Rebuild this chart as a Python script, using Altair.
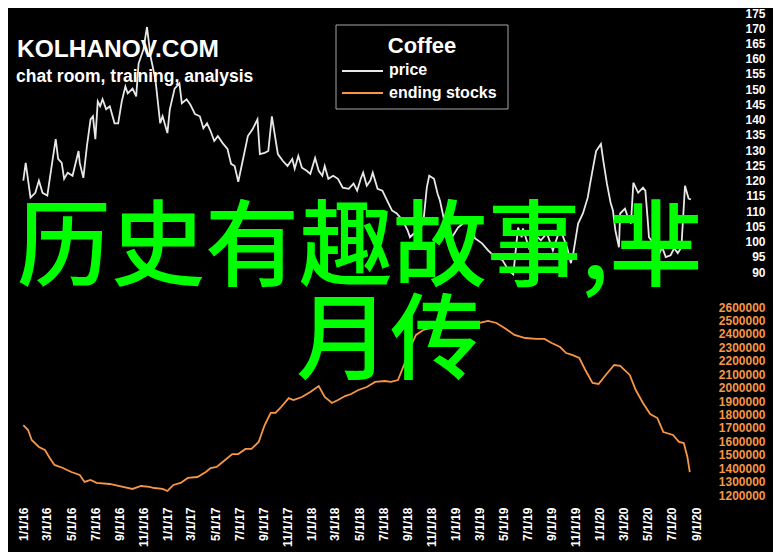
import altair as alt
import numpy as np
import pandas as pd

# ---------------- data ----------------
# time is given in months since 1 Jan 2016
price_month = [0.0, 0.2, 0.6, 1.0, 1.3, 1.6, 2.0, 2.4, 2.7, 2.9,
               3.2, 3.4, 3.7, 4.1, 4.6, 4.7, 5.0, 5.3, 5.6, 5.8,
               6.0, 6.2, 6.4, 6.6, 6.9, 7.2, 7.6, 7.9, 8.2, 8.5,
               8.7, 9.1, 9.4, 9.6, 10.0, 10.3, 10.6, 11.0, 11.4, 11.6,
               12.0, 12.2, 12.6, 13.0, 13.2, 13.6, 13.9, 14.3, 14.7, 15.0,
               15.3, 15.6, 15.9, 16.2, 16.6, 17.0, 17.3, 17.6, 17.9, 18.3,
               18.7, 19.1, 19.5, 19.7, 20.1, 20.4, 20.7, 21.0, 21.2, 21.6,
               22.0, 22.4, 22.6, 22.9, 23.2, 23.6, 23.9, 24.3, 24.6, 24.9,
               25.1, 25.4, 25.8, 26.2, 26.6, 27.1, 27.5, 27.8, 28.1, 28.3,
               28.6, 28.9, 29.1, 29.5, 29.9, 30.3, 30.7, 31.1, 31.6, 32.0,
               32.2, 32.8, 33.3, 33.6, 33.8, 34.2, 34.5, 34.7, 35.1, 35.7,
               36.2, 36.9, 37.4, 37.6, 38.2, 38.7, 39.3, 39.9, 40.4, 40.8,
               41.2, 41.5, 41.6, 42.1, 42.5, 43.1, 43.6, 44.1, 44.7, 45.3,
               45.6, 45.8, 46.2, 46.6, 47.0, 47.2, 47.5, 47.7, 48.1, 48.3,
               48.6, 48.9, 49.1, 49.3, 49.6, 49.7, 50.1, 50.3, 50.6, 50.8,
               51.2, 51.6, 51.8, 52.0, 52.1, 52.5, 52.9, 53.2, 53.5, 53.9,
               54.2, 54.5, 54.8, 55.1, 55.4, 55.6]
price_value = [120.0, 125.8, 114.4, 116.0, 120.0, 116.0, 115.1, 125.8, 133.6, 127.1,
               125.8, 120.6, 122.6, 121.6, 129.7, 125.8, 120.9, 131.4, 140.1, 141.1,
               133.6, 146.0, 144.4, 146.7, 143.4, 144.4, 138.8, 138.8, 146.0, 150.9,
               148.6, 150.2, 147.6, 158.4, 163.0, 170.4, 160.7, 153.2, 138.8, 141.1,
               135.6, 143.4, 150.2, 151.9, 145.4, 146.7, 145.0, 141.8, 141.1, 137.2,
               138.8, 136.2, 133.0, 134.6, 132.3, 130.4, 125.5, 124.8, 119.6, 127.1,
               134.6, 136.9, 140.1, 128.7, 129.1, 129.7, 141.1, 133.6, 128.7, 126.5,
               124.8, 127.1, 123.9, 128.1, 124.2, 123.2, 122.2, 127.4, 123.2, 121.6,
               124.8, 120.6, 121.6, 120.6, 117.7, 117.3, 119.0, 116.7, 120.6, 122.6,
               118.3, 120.0, 122.6, 117.3, 116.7, 113.4, 110.2, 109.2, 106.9, 103.7,
               101.4, 103.7, 105.9, 117.7, 121.6, 120.6, 115.7, 113.4, 105.9, 101.4,
               104.6, 106.9, 103.7, 101.1, 99.4, 97.1, 94.9, 93.9, 90.6, 89.2,
               104.6, 101.4, 104.3, 98.1, 102.7, 100.4, 102.7, 97.1, 104.3, 97.8,
               92.9, 96.2, 105.9, 109.2, 114.4, 119.0, 125.5, 129.7, 132.0, 126.5,
               119.0, 112.8, 110.2, 103.7, 98.1, 109.2, 110.8, 108.5, 105.9, 119.3,
               116.0, 117.7, 116.7, 106.9, 101.4, 99.4, 95.5, 98.1, 94.9, 95.5,
               97.8, 96.2, 98.1, 118.3, 114.1, 113.8]

stock_month = [0.0, 0.4, 0.7, 1.3, 1.8, 2.2, 2.6, 3.3, 4.0, 4.7,
               5.1, 5.6, 6.1, 7.2, 8.3, 9.1, 9.8, 10.5, 10.9, 11.6,
               12.0, 12.5, 13.1, 13.7, 14.5, 15.2, 15.6, 16.1, 16.6, 17.4,
               17.9, 18.5, 19.0, 19.6, 20.1, 20.6, 21.0, 21.4, 22.1, 22.5,
               23.2, 23.9, 24.6, 25.1, 25.7, 26.2, 26.8, 27.3, 27.9, 28.6,
               29.3, 30.1, 30.6, 31.2, 31.7, 32.2, 32.7, 33.3, 34.0, 35.1,
               36.1, 37.2, 38.0, 38.7, 39.4, 40.2, 40.9, 41.8, 42.7, 43.4,
               44.0, 44.7, 45.2, 45.7, 46.3, 46.8, 47.4, 47.9, 48.5, 49.2,
               49.7, 50.5, 51.0, 51.6, 52.2, 52.8, 53.3, 54.1, 54.6, 55.0,
               55.3, 55.5]
stock_value = [1721000, 1684000, 1610000, 1558000, 1535000, 1476000, 1424000, 1401000, 1371000, 1349000,
               1297000, 1312000, 1290000, 1282000, 1260000, 1245000, 1267000, 1260000, 1252000, 1245000,
               1230000, 1275000, 1290000, 1327000, 1334000, 1371000, 1401000, 1409000, 1446000, 1505000,
               1505000, 1543000, 1543000, 1595000, 1721000, 1811000, 1811000, 1848000, 1922000, 1907000,
               1930000, 1967000, 2012000, 1930000, 1885000, 1907000, 1937000, 1952000, 1982000, 2004000,
               2042000, 2049000, 2042000, 2056000, 2168000, 2295000, 2392000, 2429000, 2444000, 2451000,
               2451000, 2466000, 2481000, 2496000, 2481000, 2436000, 2392000, 2369000, 2362000, 2362000,
               2332000, 2302000, 2257000, 2243000, 2220000, 2131000, 2034000, 2027000, 2094000, 2168000,
               2161000, 2094000, 1982000, 1885000, 1803000, 1773000, 1669000, 1647000, 1595000, 1587000,
               1483000, 1371000]

price_ticks = list(range(90, 180, 5))
stock_ticks = list(range(1200000, 2700000, 100000))
x_tick_dates = pd.date_range("2016-01-01", "2020-09-01", freq="2MS")

site_title = ["KOLHANOV.COM"]
site_subtitle = ["chat room, training, analysis"]
legend_title = ["Coffee"]
series_names = ["price", "ending stocks"]
headline_lines = ["历史有趣故事,芈", "月传"]

# ---------------- build ----------------
base = pd.Timestamp("2016-01-01")


def to_dates(months):
    return base + pd.to_timedelta(np.asarray(months) * 30.4375, unit="D")


price_df = pd.DataFrame({"date": to_dates(price_month), "price": price_value})
stock_df = pd.DataFrame({"date": to_dates(stock_month), "stocks": stock_value})

WHITE = "#e8e8e8"
ORANGE = "#f79646"
GREEN = "#00ff00"
FONT = "Liberation Sans"

W, H = 700, 492

x_scale = alt.Scale(
    domain=[alt.DateTime(year=2016, month=1, date=1), alt.DateTime(year=2020, month=9, date=1)],
    range=[15.3, 688],
)
x_axis = alt.Axis(
    values=[alt.DateTime(year=int(d.year), month=int(d.month), date=1) for d in x_tick_dates],
    format="%-m/%-d/%y", labelAngle=270, labelAlign="right", labelBaseline="middle",
    labelPadding=7, labelColor="white", labelFont=FONT, labelFontSize=12,
    labelFontWeight="bold", grid=False, domain=False, ticks=False, tickSize=0,
    title=None, labelOverlap=False, labelFlush=False, labelBound=False,
)

price_line = alt.Chart(price_df).mark_line(color=WHITE, strokeWidth=1.8).encode(
    x=alt.X("date:T", scale=x_scale, axis=x_axis),
    y=alt.Y("price:Q",
            scale=alt.Scale(domain=[90, 175], range=[264, 5], zero=False, nice=False),
            axis=alt.Axis(orient="right", values=price_ticks, labelAlign="right",
                          labelBaseline="middle", labelPadding=57, labelColor="white",
                          labelFont=FONT, labelFontSize=12, labelFontWeight="bold",
                          grid=False, domain=False, ticks=False, tickSize=0, title=None,
                          labelOverlap=False, labelFlush=False)),
)

stock_line = alt.Chart(stock_df).mark_line(color=ORANGE, strokeWidth=1.8).encode(
    x=alt.X("date:T", scale=x_scale, axis=x_axis),
    y=alt.Y("stocks:Q",
            scale=alt.Scale(domain=[1200000, 2600000], range=[487, 299], zero=False, nice=False),
            axis=alt.Axis(orient="right", values=stock_ticks, format="d", labelAlign="right",
                          labelBaseline="middle", labelPadding=57, labelColor=ORANGE,
                          labelFont=FONT, labelFontSize=12, labelFontWeight="bold",
                          grid=False, domain=False, ticks=False, tickSize=0, title=None,
                          labelOverlap=False, labelFlush=False)),
)

one = pd.DataFrame({"k": [0]})

legend_box = alt.Chart(one).mark_rect(fill="black", stroke="#a6a6a6", strokeWidth=1).encode(
    x=alt.value(328), x2=alt.value(500), y=alt.value(17), y2=alt.value(101)
)
legend_title_t = alt.Chart(pd.DataFrame({"t": legend_title})).mark_text(
    font=FONT, fontSize=22, fontWeight="bold", color="white", align="center", baseline="alphabetic"
).encode(x=alt.value(414), y=alt.value(45), text="t:N")
legend_price_line = alt.Chart(one).mark_rule(color=WHITE, strokeWidth=2).encode(
    x=alt.value(334), x2=alt.value(375), y=alt.value(63)
)
legend_stock_line = alt.Chart(one).mark_rule(color=ORANGE, strokeWidth=2).encode(
    x=alt.value(334), x2=alt.value(375), y=alt.value(85)
)
legend_price_t = alt.Chart(pd.DataFrame({"t": series_names[:1]})).mark_text(
    font=FONT, fontSize=16, fontWeight="bold", color="white", align="left", baseline="alphabetic"
).encode(x=alt.value(381), y=alt.value(67), text="t:N")
legend_stock_t = alt.Chart(pd.DataFrame({"t": series_names[1:]})).mark_text(
    font=FONT, fontSize=16, fontWeight="bold", color="white", align="left", baseline="alphabetic"
).encode(x=alt.value(381), y=alt.value(90), text="t:N")

title_t = alt.Chart(pd.DataFrame({"t": site_title})).mark_text(
    font=FONT, fontSize=24.5, fontWeight="bold", color="white", align="left", baseline="alphabetic"
).encode(x=alt.value(9), y=alt.value(49), text="t:N")
subtitle_t = alt.Chart(pd.DataFrame({"t": site_subtitle})).mark_text(
    font=FONT, fontSize=17.5, fontWeight="bold", color="white", align="left", baseline="alphabetic"
).encode(x=alt.value(8), y=alt.value(74), text="t:N")

head1 = alt.Chart(pd.DataFrame({"t": headline_lines[:1]})).mark_text(
    font="Noto Sans CJK SC", fontSize=94, fontWeight=500, color=GREEN, align="center",
    baseline="alphabetic"
).encode(x=alt.value(352), y=alt.value(271), text="t:N")
head2 = alt.Chart(pd.DataFrame({"t": headline_lines[1:]})).mark_text(
    font="Noto Sans CJK SC", fontSize=94, fontWeight=500, color=GREEN, align="center",
    baseline="alphabetic"
).encode(x=alt.value(382), y=alt.value(364), text="t:N")

chart = alt.layer(
    price_line, stock_line,
    legend_box, legend_title_t, legend_price_line, legend_stock_line, legend_price_t, legend_stock_t,
    title_t, subtitle_t, head1, head2,
).resolve_scale(y="independent").properties(
    width=W, height=H,
    autosize=alt.AutoSizeParams(type="none"),
    padding={"left": 0, "top": 0, "right": 65, "bottom": 60},
).configure(background="black").configure_view(stroke=None)

chart.save("out.html", embed_options={"renderer": "svg", "actions": False})
